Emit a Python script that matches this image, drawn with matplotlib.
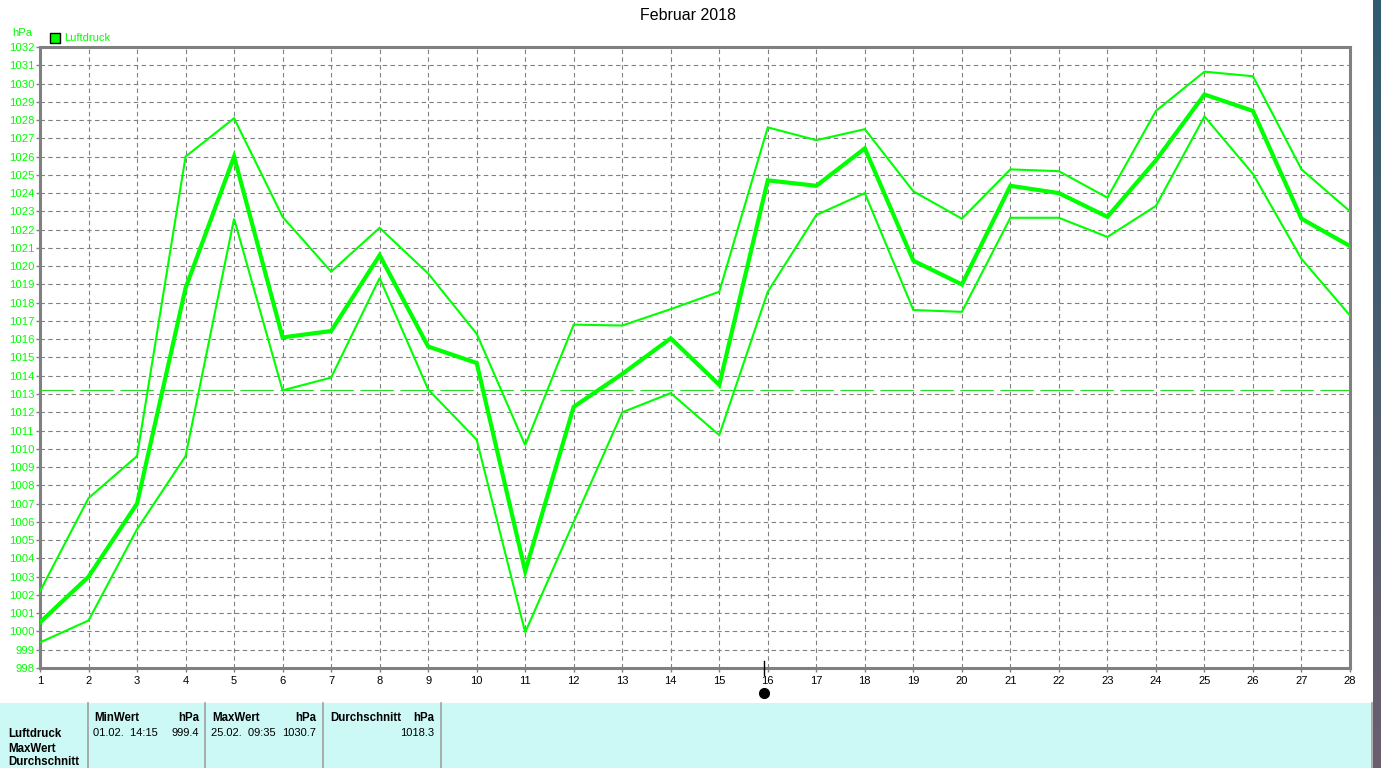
import matplotlib
matplotlib.use('Agg')
import matplotlib.pyplot as plt
import numpy as np
from matplotlib.patches import Rectangle
import matplotlib.transforms as mtransforms

plt.rcParams['font.family'] = ['Liberation Sans', 'DejaVu Sans']

# ---------------- data ----------------
days = list(range(1, 29))
luftdruck_max = [1002.2, 1007.3, 1009.6, 1026.0, 1028.1, 1022.7, 1019.7, 1022.1, 1019.6, 1016.3,
                 1010.2, 1016.8, 1016.75, 1017.65, 1018.6, 1027.6, 1026.9, 1027.5, 1024.1, 1022.6,
                 1025.3, 1025.2, 1023.75, 1028.5, 1030.65, 1030.4, 1025.3, 1023.0]
luftdruck_mean = [1000.5, 1003.0, 1007.0, 1018.8, 1026.0, 1016.1, 1016.45, 1020.6, 1015.6, 1014.7,
                  1003.3, 1012.3, 1014.1, 1016.05, 1013.5, 1024.7, 1024.4, 1026.45, 1020.3, 1019.0,
                  1024.4, 1024.0, 1022.7, 1025.8, 1029.4, 1028.5, 1022.6, 1021.1]
luftdruck_min = [999.4, 1000.6, 1005.6, 1009.6, 1022.6, 1013.2, 1013.9, 1019.35, 1013.25, 1010.5,
                 999.95, 1006.0, 1012.0, 1013.05, 1010.75, 1018.6, 1022.8, 1024.0, 1017.6, 1017.5,
                 1022.65, 1022.65, 1021.6, 1023.3, 1028.2, 1025.05, 1020.4, 1017.3]
reference_level = 1013.2
y_min, y_max = 998, 1032
marker_day = 15.92

title = "Februar 2018"
unit = "hPa"
series_name = "Luftdruck"
row_labels = ["Luftdruck", "MaxWert", "Durchschnitt"]
min_header, min_date, min_value = "MinWert", "01.02.  14:15", "999.4"
max_header, max_date, max_value = "MaxWert", "25.02.  09:35", "1030.7"
avg_header, avg_value = "Durchschnitt", "1018.3"

# ---------------- layout ----------------
W, H = 1381, 768
fig = plt.figure(figsize=(W / 100, H / 100), dpi=100)
fig.patch.set_facecolor('white')

def fx(x):
    return x / W

def fy(y):
    return 1 - y / H

GREEN = '#00ff00'
GRID = '#808080'

L, R, T, B = 40, 1350, 47, 668
ax = fig.add_axes([fx(L), fy(B), fx(R) - fx(L), fy(T) - fy(B)])
ax.set_xlim(days[0], days[-1])
ax.set_ylim(y_min, y_max)

ax.plot(days, luftdruck_max, color=GREEN, lw=1.5, zorder=4, solid_joinstyle='miter')
ax.plot(days, luftdruck_min, color=GREEN, lw=1.5, zorder=4, solid_joinstyle='miter')
ax.plot(days, luftdruck_mean, color=GREEN, lw=3.0, zorder=5, solid_joinstyle='miter')
ax.axhline(reference_level, color='#22dd22', lw=0.8, dashes=(30, 6), zorder=3)

ax.set_xticks(days)
ax.set_xticklabels([str(d) for d in days], fontsize=8, color='black')
yt = list(range(y_min, y_max + 1))
ax.set_yticks(yt)
ax.set_yticklabels([str(v) for v in yt], fontsize=8.2, color=GREEN)
ax.tick_params(axis='y', length=3, width=1, color=GRID, pad=1.2)
ax.tick_params(axis='x', length=3, width=1, color=GRID, pad=3)
ax.grid(True, color=GRID, lw=0.8, dashes=(4, 3))
for s in ax.spines.values():
    s.set_color(GRID)
    s.set_linewidth(2.2)

# current position marker
tr = mtransforms.blended_transform_factory(ax.transData, ax.transAxes)
ax.plot([marker_day, marker_day], [-0.012, 0.011], color='black', lw=1, transform=tr,
        clip_on=False, zorder=6)
ax.plot([marker_day], [-0.04], marker='o', color='black', ms=7, transform=tr,
        clip_on=False, zorder=6)

# title / unit / legend
fig.text(fx(688), fy(15), title, ha='center', va='center', fontsize=11.5, color='black')
fig.text(fx(12), fy(33), unit, ha='left', va='center', fontsize=8.2, color=GREEN)
fig.patches.append(Rectangle((fx(50), fy(43)), fx(10), 10 / H, transform=fig.transFigure,
                             facecolor=GREEN, edgecolor='black', lw=1, figure=fig))
fig.text(fx(64), fy(38), series_name, ha='left', va='center', fontsize=8, color=GREEN)

# bottom table
CYAN = '#ccf8f5'
fig.patches.append(Rectangle((0, 0), fx(1372), fy(703), transform=fig.transFigure,
                             facecolor=CYAN, edgecolor='none', figure=fig))
for xs in [88, 205, 323, 441, 1372]:
    fig.add_artist(plt.Line2D([fx(xs), fx(xs)], [0, fy(703)], color='#a0a0a0', lw=1.2,
                              transform=fig.transFigure))
hk = dict(fontsize=8.3, color='black', va='center', fontweight='bold')
vk = dict(fontsize=8, color='black', va='center')
fig.text(fx(8), fy(734), row_labels[0], ha='left', **hk)
fig.text(fx(8), fy(749), row_labels[1], ha='left', **hk)
fig.text(fx(8), fy(762), row_labels[2], ha='left', **hk)
fig.text(fx(94), fy(718), min_header, ha='left', **hk)
fig.text(fx(199), fy(718), unit, ha='right', **hk)
fig.text(fx(93), fy(733), min_date, ha='left', **vk)
fig.text(fx(199), fy(733), min_value, ha='right', **vk)
fig.text(fx(212), fy(718), max_header, ha='left', **hk)
fig.text(fx(316), fy(718), unit, ha='right', **hk)
fig.text(fx(211), fy(733), max_date, ha='left', **vk)
fig.text(fx(316), fy(733), max_value, ha='right', **vk)
fig.text(fx(330), fy(718), avg_header, ha='left', **hk)
fig.text(fx(434), fy(718), unit, ha='right', **hk)
fig.text(fx(434), fy(733), avg_value, ha='right', **vk)

# right dark strip
sax = fig.add_axes([fx(1373), 0, fx(8), 1])
grad = np.linspace(0, 1, 256).reshape(-1, 1)
top = np.array([0.18, 0.36, 0.44])
bot = np.array([0.42, 0.37, 0.43])
img = top[None, None, :] * (1 - grad[:, :, None]) + bot[None, None, :] * grad[:, :, None]
sax.imshow(img, aspect='auto', extent=[0, 1, 0, 1])
sax.axis('off')

fig.savefig('out.png', dpi=100)
